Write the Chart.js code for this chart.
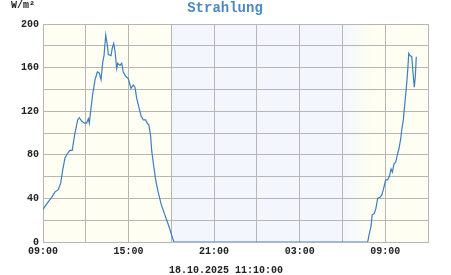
<!DOCTYPE html>
<html>
<head>
<meta charset="utf-8">
<script src="https://cdn.jsdelivr.net/npm/chart.js@4/dist/chart.umd.min.js"></script>
<style>
  html, body { margin: 0; padding: 0; background: #ffffff; }
  #wrap { width: 451px; height: 275px; }
</style>
</head>
<body>
<div id="wrap"><canvas id="chart" width="451" height="275"></canvas></div>
<script>
// Hours since 09:00 on the first day, and radiation in W/m²
const hours = [
    0, 0.26, 0.61, 0.84, 1.07, 1.24, 1.38, 1.54, 1.70, 1.89, 2.05, 2.12, 2.24, 2.31,
    2.43, 2.55, 2.71, 2.90, 3.06, 3.18, 3.25, 3.35, 3.49, 3.65, 3.81, 3.95, 4.07, 4.19,
    4.28, 4.40, 4.51, 4.58, 4.77, 4.86, 4.96, 5.05, 5.17, 5.24, 5.40, 5.52, 5.63, 5.80,
    5.98, 6.17, 6.33, 6.45, 6.57, 6.68, 6.87, 7.03, 7.20, 7.31, 7.43, 7.55, 7.62, 7.74,
    7.90, 8.09, 8.28, 8.51, 8.68, 8.84, 8.98, 9.10, 9.19,
    22.77, 22.86, 23.00, 23.09, 23.23, 23.35, 23.47, 23.63, 23.75, 23.87, 24.03, 24.17,
    24.29, 24.41, 24.50, 24.62, 24.73, 24.85, 24.97, 25.09, 25.16, 25.27, 25.39, 25.51,
    25.58, 25.65, 25.74, 25.86, 25.95, 26.04, 26.11, 26.18
];
const radiation = [
    30, 35, 41, 46, 48, 54, 66, 77, 81, 84, 84, 90, 100, 104,
    112, 114, 111, 109, 109, 113, 109, 121, 136, 149, 156, 155, 149, 165,
    171, 190, 181, 172, 171, 178, 182, 175, 159, 164, 162, 164, 156, 152,
    150, 141, 144, 142, 132, 126, 116, 112, 112, 109, 107, 97, 84, 72,
    57, 45, 35, 26, 20, 14, 8, 3, 0,
    0, 6, 14, 25, 26, 31, 40, 41, 43, 48, 57, 57,
    60, 67, 64, 72, 73, 80, 86, 95, 103, 112, 129, 146,
    158, 173, 171, 170, 155, 142, 152, 170
];

const yTicks = [0, 40, 80, 120, 160, 200];
const xTickHours = [0, 6, 12, 18, 24];
const xTickLabels = ['09:00', '15:00', '21:00', '03:00', '09:00'];

const chartTitle = 'Strahlung';
const unitLabel = 'W/m²';
const timestamp = '18.10.2025 11:10:00';

// night shading (hours since 09:00)
const nightStart = 9.0;
const dawnStart = 21.1;
const dawnEnd = 23.0;

const mono = "'Liberation Mono', 'DejaVu Sans Mono', monospace";

// Background: cream for daytime, pale blue for night with a dawn fade
const backgroundPlugin = {
    id: 'dayNight',
    beforeDraw(chart) {
        const { ctx, chartArea: a, scales } = chart;
        const x = scales.x;
        ctx.save();
        ctx.fillStyle = '#fefef3';
        ctx.fillRect(a.left, a.top, a.right - a.left, a.bottom - a.top);

        const xs = x.getPixelForValue(nightStart);
        const xd0 = x.getPixelForValue(dawnStart);
        const xd1 = x.getPixelForValue(dawnEnd);
        ctx.fillStyle = '#f4f6fd';
        ctx.fillRect(xs, a.top, xd0 - xs, a.bottom - a.top);

        const g = ctx.createLinearGradient(xd0, 0, xd1, 0);
        g.addColorStop(0, '#f4f6fd');
        g.addColorStop(1, '#fefef3');
        ctx.fillStyle = g;
        ctx.fillRect(xd0, a.top, xd1 - xd0, a.bottom - a.top);
        ctx.restore();
    }
};

// Title, unit and timestamp
const textPlugin = {
    id: 'texts',
    afterDraw(chart) {
        const ctx = chart.ctx;
        ctx.save();
        ctx.textBaseline = 'middle';

        ctx.font = 'bold 14px ' + mono;
        ctx.fillStyle = '#4a89c6';
        ctx.textAlign = 'center';
        ctx.fillText(chartTitle, 225, 8);

        ctx.font = 'bold 10px ' + mono;
        ctx.fillStyle = '#222222';
        ctx.textAlign = 'left';
        ctx.fillText(unitLabel, 11, 5);

        ctx.textAlign = 'center';
        ctx.fillText(timestamp, 226, 270);
        ctx.restore();
    }
};

const ctx = document.getElementById('chart').getContext('2d');
new Chart(ctx, {
    type: 'line',
    data: {
        datasets: [{
            data: hours.map((h, i) => ({ x: h, y: radiation[i] })),
            borderColor: '#3d7ebf',
            borderWidth: 1.2,
            pointRadius: 0,
            tension: 0,
            fill: false
        }]
    },
    options: {
        responsive: false,
        animation: false,
        layout: { padding: { left: 0, top: 24, right: 23, bottom: 0 } },
        plugins: {
            legend: { display: false },
            tooltip: { enabled: false }
        },
        scales: {
            x: {
                type: 'linear',
                min: 0,
                max: 27,
                afterFit: s => { s.height = 33; },
                afterBuildTicks: s => {
                    s.ticks = [0, 3, 6, 9, 12, 15, 18, 21, 24, 27].map(v => ({ value: v }));
                },
                ticks: {
                    autoSkip: false,
                    maxRotation: 0,
                    padding: 3,
                    color: '#222222',
                    font: { family: mono, size: 10, weight: 'bold' },
                    callback: v => {
                        const i = xTickHours.indexOf(v);
                        return i >= 0 ? xTickLabels[i] : '';
                    }
                },
                grid: { color: '#b6b6b6', lineWidth: 1, drawTicks: false },
                border: { color: '#b6b6b6' }
            },
            y: {
                min: 0,
                max: 200,
                afterFit: s => { s.width = 43; },
                ticks: {
                    stepSize: 20,
                    padding: 4,
                    color: '#222222',
                    font: { family: mono, size: 10, weight: 'bold' },
                    callback: v => yTicks.includes(v) ? String(v) : ''
                },
                grid: { color: '#b6b6b6', lineWidth: 1, drawTicks: false },
                border: { color: '#b6b6b6' }
            }
        }
    },
    plugins: [backgroundPlugin, textPlugin]
});
</script>
</body>
</html>
